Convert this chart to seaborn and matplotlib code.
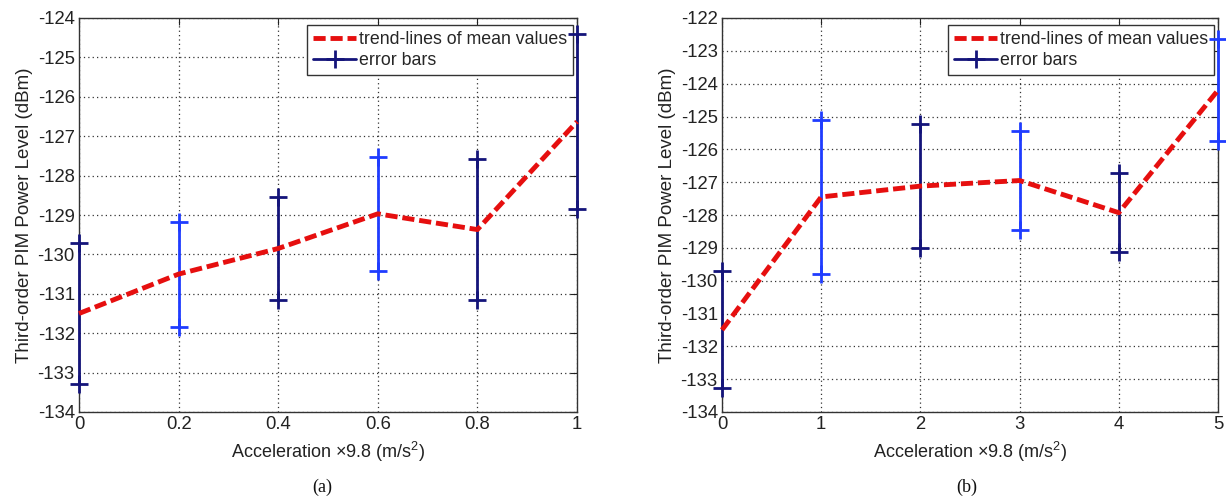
import numpy as np
import pandas as pd
import matplotlib
matplotlib.use("Agg")
import matplotlib.pyplot as plt
from matplotlib.lines import Line2D
import seaborn as sns

# ---- data ----
accel_a = [0.0, 0.2, 0.4, 0.6, 0.8, 1.0]
mean_a = [-131.5, -130.5, -129.85, -128.97, -129.37, -126.63]
err_a = [1.78, 1.33, 1.3, 1.45, 1.8, 2.23]
color_a = ["#14147a", "#1f3cff", "#14147a", "#1f3cff", "#14147a", "#14147a"]

accel_b = [0, 1, 2, 3, 4, 5]
mean_b = [-131.5, -127.45, -127.12, -126.95, -127.93, -124.2]
err_b = [1.78, 2.35, 1.88, 1.5, 1.2, 1.55]
color_b = ["#14147a", "#1f3cff", "#14147a", "#1f3cff", "#14147a", "#1f3cff"]

xticks_a = [0, 0.2, 0.4, 0.6, 0.8, 1]
xticklabels_a = ["0", "0.2", "0.4", "0.6", "0.8", "1"]
yticks_a = list(range(-134, -123))
xticks_b = [0, 1, 2, 3, 4, 5]
yticks_b = list(range(-134, -121))

sns.set_theme(style="white")
fam = ["Liberation Sans", "DejaVu Sans"]
plt.rcParams["font.family"] = fam
plt.rcParams["mathtext.fontset"] = "custom"
plt.rcParams["mathtext.rm"] = "Liberation Sans"
plt.rcParams["mathtext.it"] = "Liberation Sans"

W, H = 1226, 496
TOP, BOT = 18, 412
fig = plt.figure(figsize=(W / 100, H / 100), dpi=100)
ax1 = fig.add_axes([79 / W, 1 - BOT / H, (577 - 79) / W, (BOT - TOP) / H])
ax2 = fig.add_axes([722 / W, 1 - BOT / H, (1218 - 722) / W, (BOT - TOP) / H])

RED = "#e60f0f"


def panel(ax, x, m, e, cols, xticks, xtl, yticks, xlim, ylim):
    df = pd.DataFrame({"x": x, "m": m})
    for xi, mi, ei, c in zip(x, m, e, cols):
        ax.plot([xi, xi], [mi - ei, mi + ei], color=c, lw=2, zorder=3, clip_on=False)
        ax.plot([xi, xi], [mi - ei, mi + ei], ls="none", marker="+", ms=13.5, mew=2,
                color=c, zorder=3, clip_on=False)
    sns.lineplot(data=df, x="x", y="m", ax=ax, color=RED, lw=3.5,
                 zorder=4, clip_on=False)
    ax.lines[-1].set_dashes([2.5, 1.0])
    ax.set_xlim(*xlim)
    ax.set_ylim(*ylim)
    ax.set_xticks(xticks)
    ax.set_xticklabels(xtl)
    ax.set_yticks(yticks)
    ax.set_yticklabels([str(v) for v in yticks])
    ax.grid(True, ls=(0, (1, 2.5)), color="#333333", lw=0.9)
    ax.tick_params(direction="in", top=True, right=True, length=5, width=0.8,
                   labelsize=13.3, colors="#222222", pad=3)
    for s in ax.spines.values():
        s.set_color("#333333")
        s.set_linewidth(1.0)
    ax.set_xlabel("Acceleration \u00d79.8 (m/s$^2$)", fontsize=13, color="#222222", labelpad=5)
    ax.set_ylabel("Third-order PIM Power Level (dBm)", fontsize=13.5, color="#222222", labelpad=3)
    handles = [Line2D([], [], color=RED, lw=3.5, dashes=[2.5, 1.0]),
               Line2D([], [], color="#14147a", lw=2, marker="+", ms=13.5, mew=2)]
    leg = ax.legend(handles, ["trend-lines of mean values", "error bars"],
                    loc="upper right", bbox_to_anchor=(0.992, 0.982), fontsize=12.8,
                    frameon=True, fancybox=False, framealpha=1, edgecolor="#333333",
                    handlelength=2.4, handletextpad=0.15, borderpad=0.35,
                    labelspacing=0.2, borderaxespad=0)
    leg.get_frame().set_linewidth(1.0)
    leg.set_zorder(2)


panel(ax1, accel_a, mean_a, err_a, color_a, xticks_a, xticklabels_a, yticks_a,
      (0, 1), (-134, -124))
panel(ax2, accel_b, mean_b, err_b, color_b, xticks_b, [str(v) for v in xticks_b],
      yticks_b, (0, 5), (-134, -122))

fig.text(322 / W, 1 - 487 / H, "(a)", family="Liberation Serif", fontsize=13,
         ha="center", va="center", color="#111111")
fig.text(967 / W, 1 - 487 / H, "(b)", family="Liberation Serif", fontsize=13,
         ha="center", va="center", color="#111111")

fig.savefig("out.png", dpi=100)
